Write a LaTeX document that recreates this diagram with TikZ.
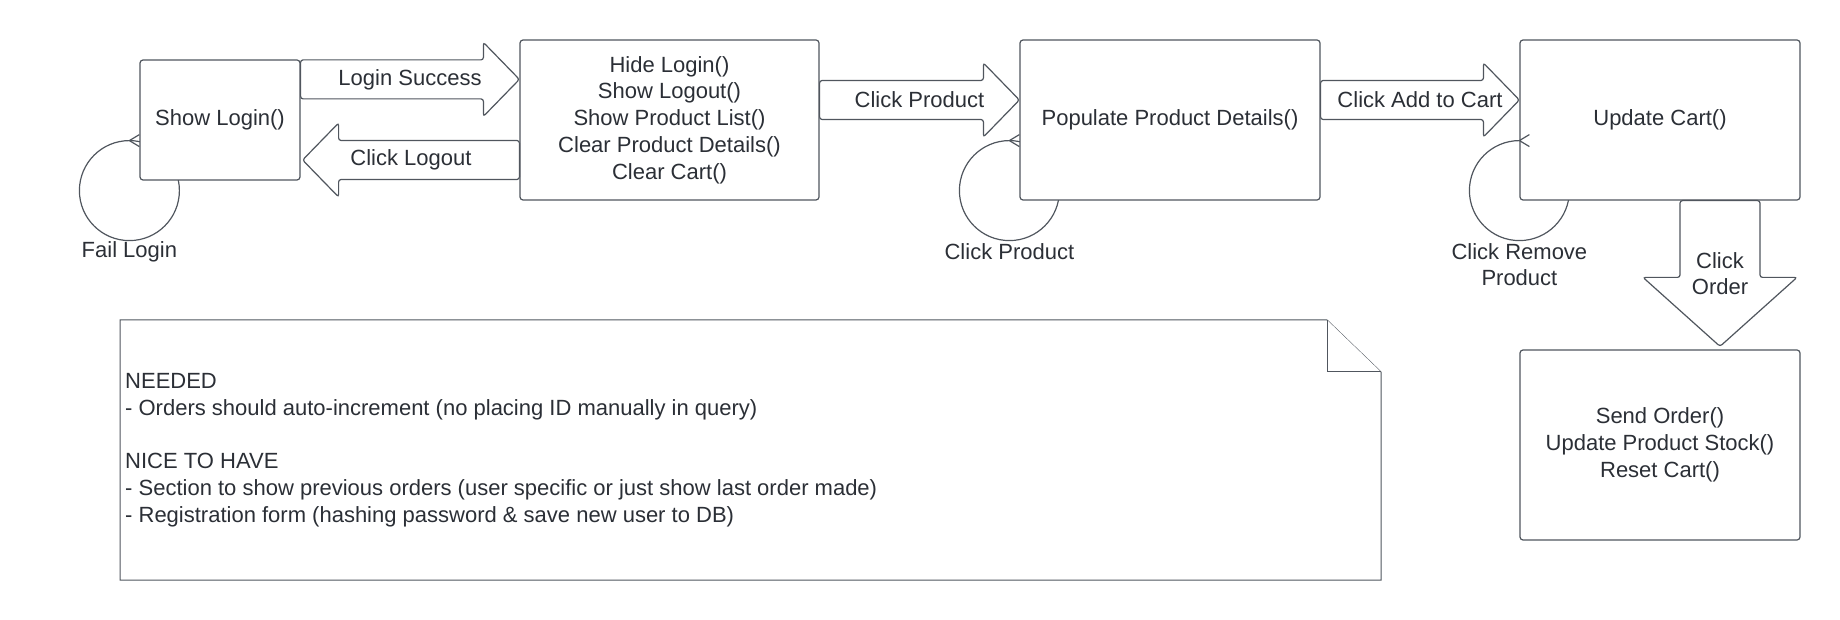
\documentclass[tikz,border=0pt]{standalone}
\usepackage{fontspec}
\setmainfont{Liberation Sans}
\usetikzlibrary{calc,backgrounds}
\definecolor{linec}{HTML}{50565E}
\definecolor{txtc}{HTML}{2B2F36}
\newcommand\myharrow[3]{% #1 start (centre of body end), #2 tip, #3 direction (1 right, -1 left)
  \draw[barrow] let \p1=(#1), \p2=(#2) in
    (\x1,\y1+19.5pt) -- ({\x2-#3*36pt},\y1+19.5pt) -- ({\x2-#3*36pt},\y1+37pt) -- (\x2,\y2)
    -- ({\x2-#3*36pt},\y1-37pt) -- ({\x2-#3*36pt},\y1-19.5pt) -- (\x1,\y1-19.5pt) -- cycle;}
\begin{document}
\begin{tikzpicture}[x=1pt,y=-1pt,
  every node/.style={font=\fontsize{22}{26.7}\selectfont, text=txtc},
  statebox/.style={draw=linec, fill=white, line width=1.2pt, rounded corners=3pt, align=center, inner sep=0pt},
  barrow/.style={draw=linec, fill=white, line width=1.2pt, rounded corners=2.5pt},
  loopc/.style={draw=linec, line width=1.2pt},
  notebox/.style={draw=linec, fill=white, line width=1pt}]
\useasboundingbox (0,0) rectangle (1840,620);

% state boxes
\node[statebox, minimum width=160pt, minimum height=120pt] (login) at (220,120) {Show Login()};
\node[statebox, minimum width=299pt, minimum height=160pt] (mid) at (669.5,120)
  {Hide Login()\\Show Logout()\\Show Product List()\\Clear Product Details()\\Clear Cart()};
\node[statebox, minimum width=300pt, minimum height=160pt] (pop) at (1170,120) {Populate Product Details()};
\node[statebox, minimum width=280pt, minimum height=160pt] (cart) at (1660,120) {Update Cart()};
\node[statebox, minimum width=280pt, minimum height=190pt] (send) at (1660,445)
  {Send Order()\\Update Product Stock()\\Reset Cart()};

% self loops (behind the boxes)
\begin{pgfonlayer}{background}
  \draw[loopc] ($(login.south west)+(-10,10)$) circle[radius=50pt];
  \draw[loopc] ($(pop.south west)+(-10,-10)$) circle[radius=50pt];
  \draw[loopc] ($(cart.south west)+(0,-10)$) circle[radius=50pt];
\end{pgfonlayer}
\coordinate (t1) at ($(login.south west)+(-10,-40)$);
\coordinate (t2) at ($(pop.south west)+(-10,-60)$);
\coordinate (t3) at ($(cart.south west)+(0,-60)$);
\foreach \t in {t1,t2,t3}
  \draw[loopc] ($(\t)+(10,-6)$) -- (\t) -- ($(\t)+(10,6)$);
\node at ($(login.south west)+(-10,71)$) {Fail Login};
\node at ($(pop.south west)+(-10,51)$) {Click Product};
\node[align=center] at ($(cart.south west)+(0,64)$) {Click Remove\\Product};

% block arrows
\coordinate (ls0) at ($(login.north east)+(0,20)$);
\coordinate (ls1) at (mid.west |- ls0);
\myharrow{ls0}{ls1}{1}
\node at ($(ls0)!0.5!(ls1)$) {Login Success};

\coordinate (lo0) at ($(mid.west)+(0,40)$);
\coordinate (lo1) at ($(login.east |- lo0)+(2,0)$);
\myharrow{lo0}{lo1}{-1}
\node at ($(lo0)!0.5!(lo1)$) {Click Logout};

\coordinate (cp0) at ($(mid.east)+(0,-20)$);
\coordinate (cp1) at (pop.west |- cp0);
\myharrow{cp0}{cp1}{1}
\node at ($(cp0)!0.5!(cp1)$) {Click Product};

\coordinate (ac0) at ($(pop.east)+(0,-20)$);
\coordinate (ac1) at (cart.west |- ac0);
\myharrow{ac0}{ac1}{1}
\node at ($(ac0)!0.5!(ac1)$) {Click Add to Cart};

\coordinate (co0) at ($(cart.south)+(60,0)$);
\coordinate (co1) at ($(send.north)+(60,-3)$);
\draw[barrow] let \p1=(co0), \p2=(co1) in
  (\x1-40pt,\y1) -- (\x1-40pt,\y2+69pt) -- (\x1-77pt,\y2+69pt) -- (\x2,\y2)
  -- (\x1+77pt,\y2+69pt) -- (\x1+40pt,\y2+69pt) -- (\x1+40pt,\y1) -- cycle;
\node[align=center] at ($(co0)!0.5!(co1)$) {Click\\Order};

% note
\draw[notebox] (120,320) -- (1327,320) -- (1381,372) -- (1381,580) -- (120,580) -- cycle;
\draw[notebox] (1327,320) -- (1327,372) -- (1381,372);
\node[anchor=west, align=left, inner sep=0pt] (notetext) at (125,450)
  {NEEDED\\- Orders should auto-increment (no placing ID manually in query)\\[26.7pt]
   NICE TO HAVE\\- Section to show previous orders (user specific or just show last order made)\\
   - Registration form (hashing password \& save new user to DB)};
\end{tikzpicture}
\end{document}
